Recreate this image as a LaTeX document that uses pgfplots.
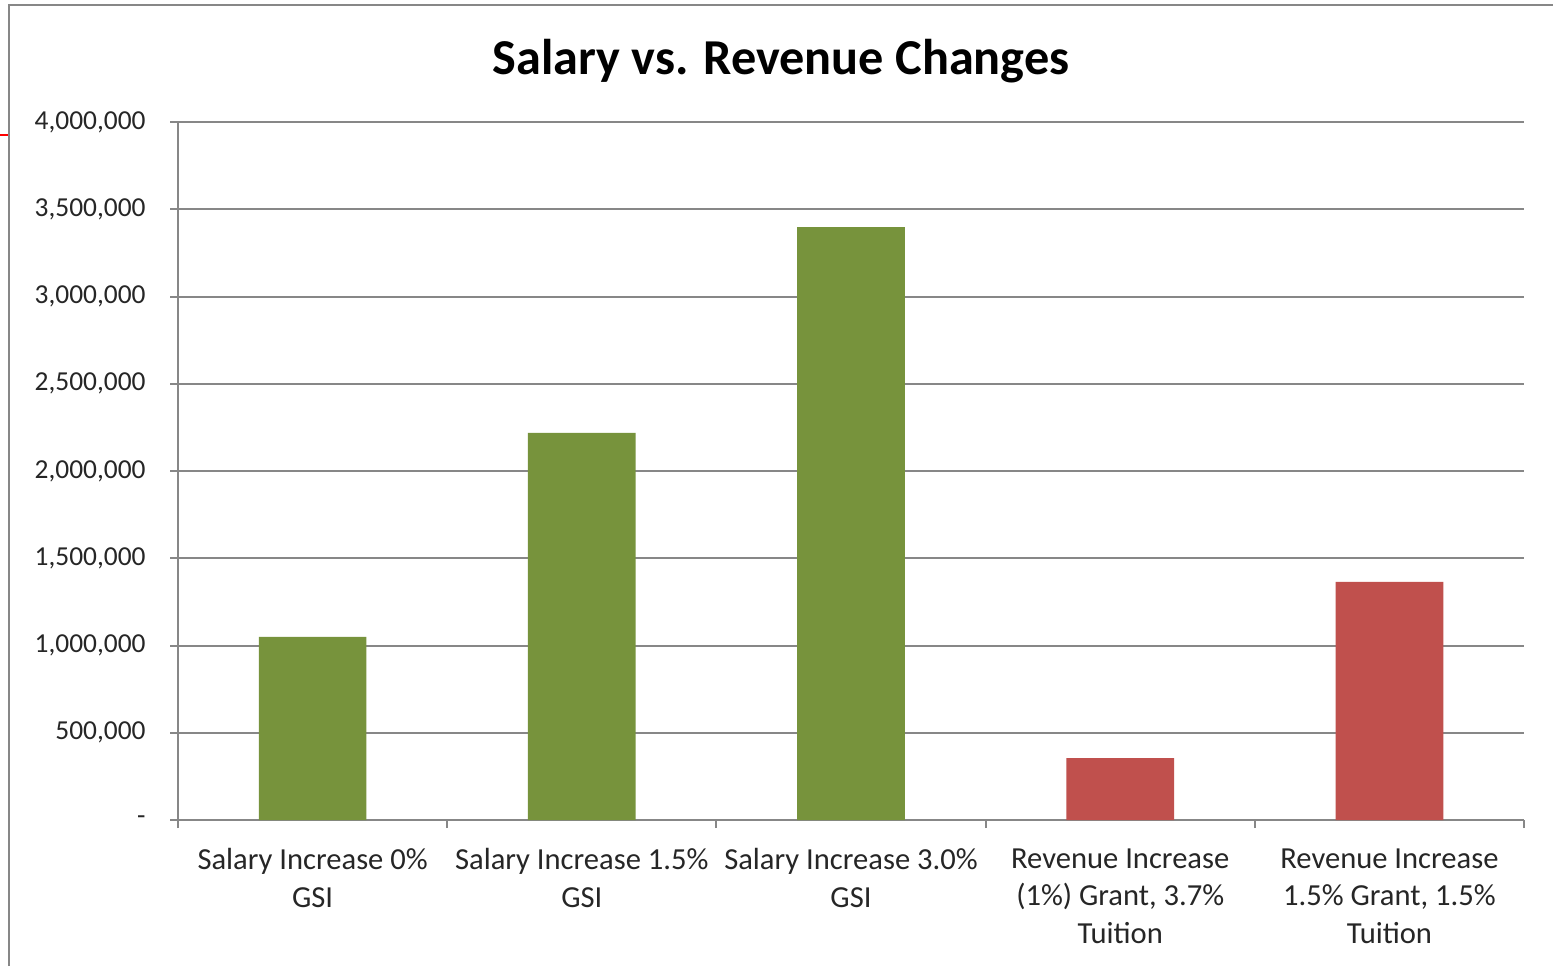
\documentclass[border=0pt]{standalone}
\usepackage{pgfplots}
\pgfplotsset{compat=1.18}
\usepackage{fontspec}
\setmainfont{Carlito}
\definecolor{bargreen}{HTML}{77933C}
\definecolor{barred}{HTML}{C0504D}
\definecolor{axgray}{HTML}{878787}
\begin{document}
\begin{tikzpicture}
\useasboundingbox (0,0) rectangle (155.3mm,96.6mm);
\fill[white] (0,0) rectangle (155.3mm,96.6mm);
\draw[axgray, line width=0.25mm] (0.9mm,0) -- (0.9mm,96.1mm) -- (155.3mm,96.1mm);
\draw[red, line width=0.25mm] (0,83.1mm) -- (0.8mm,83.1mm);
\node[font=\fontsize{14.3}{17}\selectfont\bfseries] at (78.1mm, 90.5mm) {Salary vs. Revenue Changes};
\begin{axis}[
  at={(17.8mm,14.6mm)}, anchor=south west,
  scale only axis, width=134.6mm, height=69.8mm,
  xmin=0.5, xmax=5.5, ymin=0, ymax=4000000,
  axis x line*=bottom, axis y line*=left,
  axis line style={axgray, line width=0.2mm},
  ytick={0,500000,1000000,1500000,2000000,2500000,3000000,3500000,4000000},
  yticklabels={{-\hspace{3.0mm}},{500,000},{1,000,000},{1,500,000},{2,000,000},{2,500,000},{3,000,000},{3,500,000},{4,000,000}},
  yticklabel style={font=\fontsize{7.8}{9}\selectfont, color=black!85, xshift=-1.2mm},
  ymajorgrids, grid style={axgray, line width=0.2mm},
  xtick={0.5,1.5,2.5,3.5,4.5,5.5},
  xticklabels={{},{},{},{},{},{}},
  extra x ticks={1,2,3,4,5},
  extra x tick labels={{Salary Increase 0\%\\GSI},{Salary Increase 1.5\%\\GSI},{Salary Increase 3.0\%\\GSI},{Revenue Increase\\(1\%) Grant, 3.7\%\\Tuition},{Revenue Increase\\1.5\% Grant, 1.5\%\\Tuition}},
  extra x tick style={major tick length=0pt},
  xticklabel style={font=\fontsize{8.7}{10.7}\selectfont, align=center, color=black!85, yshift=-1.6mm},
  tick align=outside, major tick length=0.8mm,
  tick style={axgray, line width=0.2mm},
  scaled y ticks=false,
]
\addplot[ybar, bar width=0.4, bar shift=0pt, fill=bargreen, draw=none] coordinates {(1,1050000) (2,2218000) (3,3398000)};
\addplot[ybar, bar width=0.4, bar shift=0pt, fill=barred, draw=none] coordinates {(4,355000) (5,1364000)};
\end{axis}
\end{tikzpicture}
\end{document}
